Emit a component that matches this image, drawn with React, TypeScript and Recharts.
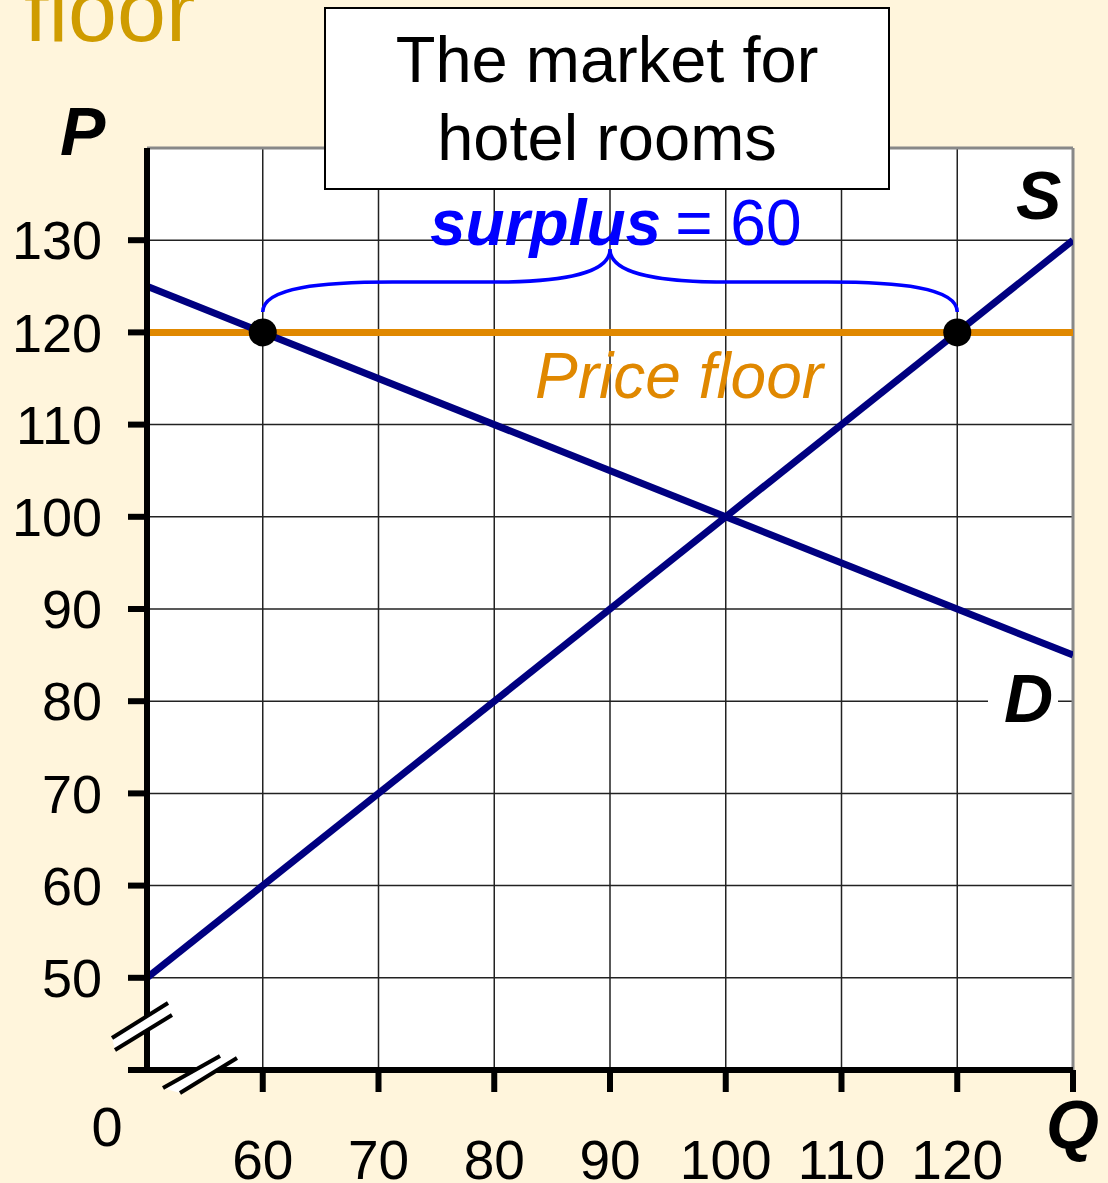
import React from "react";
import {
  LineChart,
  Line,
  XAxis,
  YAxis,
  CartesianGrid,
  ReferenceLine,
  ReferenceDot,
} from "recharts";

const FONT = "'Liberation Sans', Arial, sans-serif";
const BG = "#FFF5DC";
const NAVY = "#000080";
const ORANGE = "#E08800";
const BLUE = "#0000FF";

// quantities / prices
const supply = [
  { q: 50, p: 50 },
  { q: 130, p: 130 },
];
const demand = [
  { q: 50, p: 125 },
  { q: 130, p: 85 },
];
const priceFloor = 120;
const qDemanded = 60;
const qSupplied = 120;

const xTicks = [60, 70, 80, 90, 100, 110, 120, 130];
const yTicks = [40, 50, 60, 70, 80, 90, 100, 110, 120, 130];
const xGrid = [60, 70, 80, 90, 100, 110, 120];
const yGrid = [50, 60, 70, 80, 90, 100, 110, 120, 130];

// curly brace drawn between the two reference points
const Brace = (props: any) => {
  const { x1, y1, x2 } = props;
  const top = y1 - 30;
  const tip = y1 - 63;
  const mid = (x1 + x2) / 2;
  const d = `M ${x1} ${y1} C ${x1} ${top + 5}, ${x1 + 60} ${top}, ${x1 + 130} ${top}
    L ${mid - 120} ${top} C ${mid - 40} ${top}, ${mid} ${top - 10}, ${mid} ${tip}
    C ${mid} ${top - 10}, ${mid + 40} ${top}, ${mid + 120} ${top}
    L ${x2 - 130} ${top} C ${x2 - 60} ${top}, ${x2} ${top + 5}, ${x2} ${y1}`;
  return <path d={d} fill="none" stroke={BLUE} strokeWidth={3.5} />;
};

export default function App() {
  return (
    <div
      style={{
        position: "absolute",
        left: 0,
        top: 0,
        width: 1108,
        height: 1183,
        background: BG,
        overflow: "hidden",
        fontFamily: FONT,
      }}
    >
      <LineChart
        width={1108}
        height={1183}
        margin={{ top: 148, right: 35, bottom: 13, left: 7 }}
      >
        <CartesianGrid
          horizontalValues={yGrid}
          verticalValues={xGrid}
          stroke="#222"
          strokeWidth={1.5}
          fill="#fff"
          fillOpacity={1}
        />
        <XAxis
          type="number"
          dataKey="q"
          domain={[50, 130]}
          ticks={xTicks}
          interval={0}
          allowDataOverflow
          height={100}
          tickSize={22}
          tickMargin={48}
          tickFormatter={(v: number) => (v === 130 ? "" : String(v))}
          tick={{ fontSize: 55, fill: "#000", fontFamily: FONT }}
          axisLine={{ stroke: "#000", strokeWidth: 6 }}
          tickLine={{ stroke: "#000", strokeWidth: 6 }}
        />
        <YAxis
          type="number"
          domain={[40, 140]}
          ticks={yTicks}
          interval={0}
          allowDataOverflow
          width={140}
          tickSize={19}
          tickMargin={26}
          tickFormatter={(v: number) => (v === 40 ? "" : String(v))}
          tick={{ fontSize: 54, fill: "#000", fontFamily: FONT }}
          axisLine={{ stroke: "#000", strokeWidth: 6 }}
          tickLine={{ stroke: "#000", strokeWidth: 6 }}
        />
        <ReferenceLine y={140} stroke="#888" strokeWidth={3} />
        <ReferenceLine x={130} stroke="#888" strokeWidth={3} />
        <ReferenceLine y={priceFloor} stroke={ORANGE} strokeWidth={7} />
        <Line
          data={demand}
          dataKey="p"
          type="linear"
          stroke={NAVY}
          strokeWidth={7}
          dot={false}
          isAnimationActive={false}
        />
        <Line
          data={supply}
          dataKey="p"
          type="linear"
          stroke={NAVY}
          strokeWidth={7}
          dot={false}
          isAnimationActive={false}
        />
        <ReferenceLine
          segment={[
            { x: qDemanded, y: priceFloor + 2.2 },
            { x: qSupplied, y: priceFloor + 2.2 },
          ]}
          shape={Brace}
        />
        <ReferenceDot x={qDemanded} y={priceFloor} r={14} fill="#000" stroke="none" />
        <ReferenceDot x={qSupplied} y={priceFloor} r={14} fill="#000" stroke="none" />
      </LineChart>

      <svg
        width={1108}
        height={1183}
        style={{ position: "absolute", left: 0, top: 0, pointerEvents: "none" }}
        fontFamily={FONT}
      >
        <text x={24} y={41} fontSize={88} fill="#CF9C00">
          floor
        </text>

        <rect x={325} y={8} width={564} height={181} fill="#fff" stroke="#000" strokeWidth={2} />
        <text x={607} y={82} fontSize={65} textAnchor="middle" fill="#000">
          The market for
        </text>
        <text x={607} y={160} fontSize={65} textAnchor="middle" fill="#000">
          hotel rooms
        </text>

        <text x={430} y={245} fontSize={64} fill={BLUE}>
          <tspan fontWeight="bold" fontStyle="italic">surplus</tspan>
          <tspan dx={14}>= 60</tspan>
        </text>

        <text x={535} y={398} fontSize={64} fontStyle="italic" fill={ORANGE}>
          Price floor
        </text>

        <text x={1016} y={219} fontSize={68} fontWeight="bold" fontStyle="italic" fill="#000">
          S
        </text>
        <rect x={988} y={672} width={70} height={54} fill="#fff" />
        <text x={1004} y={722} fontSize={68} fontWeight="bold" fontStyle="italic" fill="#000">
          D
        </text>
        <text x={60} y={155} fontSize={68} fontWeight="bold" fontStyle="italic" fill="#000">
          P
        </text>
        <text x={1046} y={1148} fontSize={68} fontWeight="bold" fontStyle="italic" fill="#000">
          Q
        </text>
        <text x={107} y={1146} fontSize={56} textAnchor="middle" fill="#000">
          0
        </text>

        {/* axis break marks */}
        <polygon points="112,1038 168,1003 172,1015 115,1050" fill="#fff" />
        <line x1={112} y1={1038} x2={168} y2={1003} stroke="#000" strokeWidth={4} />
        <line x1={115} y1={1050} x2={172} y2={1015} stroke="#000" strokeWidth={4} />
        <polygon points="163,1088 220,1056 237,1058 180,1093" fill="#fff" />
        <line x1={163} y1={1088} x2={220} y2={1056} stroke="#000" strokeWidth={4} />
        <line x1={180} y1={1093} x2={237} y2={1058} stroke="#000" strokeWidth={4} />
      </svg>
    </div>
  );
}
